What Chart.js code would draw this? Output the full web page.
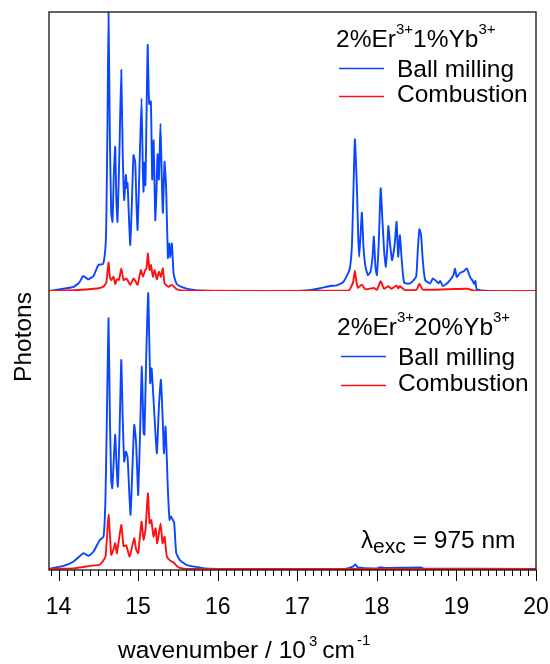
<!DOCTYPE html>
<html>
<head>
<meta charset="utf-8">
<script src="https://cdn.jsdelivr.net/npm/chart.js@4.4.1/dist/chart.umd.min.js"></script>
<style>
  html, body { margin: 0; padding: 0; background: #fff; }
  canvas { display: block; }
</style>
</head>
<body>
<canvas id="spectra" width="550" height="664"></canvas>
<script>
// ─── Data (wavenumber in 10^3 cm^-1, photons in arb. units, 100 = panel top) ───
const xTicks = [14, 15, 16, 17, 18, 19, 20];

// Top panel: 2%Er 1%Yb — ball milling
const topBallX = [13.88, 13.95, 14.06, 14.19, 14.26, 14.31, 14.37, 14.44, 14.50, 14.56, 14.59, 14.60, 14.615, 14.628,
  14.645, 14.662, 14.678, 14.695, 14.712, 14.727, 14.741, 14.765, 14.788, 14.806, 14.825, 14.846, 14.857, 14.867,
  14.885, 14.901, 14.922, 14.942, 14.964, 14.978, 14.993, 15.015, 15.043, 15.060, 15.068, 15.080, 15.092, 15.105,
  15.12, 15.138, 15.16, 15.177, 15.195, 15.215, 15.230, 15.244, 15.261, 15.281, 15.298, 15.311, 15.332, 15.352,
  15.374, 15.391, 15.403, 15.424, 15.445, 15.47, 15.495, 15.56, 15.655, 15.84, 16.2, 17.0, 17.15, 17.288, 17.413,
  17.497, 17.58, 17.656, 17.686, 17.705, 17.724, 17.749, 17.765, 17.778, 17.795, 17.812, 17.832, 17.855, 17.887,
  17.92, 17.945, 17.962, 17.982, 18.0, 18.025, 18.048, 18.07, 18.092, 18.113, 18.13, 18.144, 18.167, 18.192,
  18.225, 18.248, 18.268, 18.29, 18.313, 18.343, 18.418, 18.493, 18.515, 18.535, 18.556, 18.577, 18.607, 18.67,
  18.703, 18.733, 18.775, 18.796, 18.829, 18.88, 18.92, 18.962, 18.983, 19.004, 19.046, 19.088, 19.13, 19.172,
  19.205, 19.222, 19.239, 19.256, 19.42, 20.0];
const topBallY = [0, 0.3, 0.8, 1.5, 3, 5.4, 4.2, 5.4, 9.3, 9.7, 15.9, 25, 60, 100,
  55, 28, 24.8, 42, 51.7, 32, 24.8, 50, 79.2, 50, 32.6, 41.6, 37, 38.7,
  26, 16.5, 32, 48.7, 45.9, 32, 21.9, 42, 69, 42, 35.6, 46, 38, 62,
  88.2, 67, 68, 40, 54, 25.4, 35, 49, 40, 60, 40, 28, 46.3, 37,
  11.8, 17, 12, 17, 6.4, 3.5, 2.2, 1.3, 0.6, 0.1, 0, 0, 0.3, 1, 1.8,
  2, 3.3, 7.5, 15.9, 35, 54.4, 37.4, 20, 12.3, 20, 28.1, 15.9, 9, 5.7,
  6.9, 12, 19.5, 8.7, 5.7, 18, 36.8, 25.4, 14.1, 8.7, 15, 23.3, 16.5, 11,
  17, 24.8, 12.3, 20, 11, 3, 2.7, 5.1, 15, 22.1, 20, 11, 3.9, 2.7,
  4.5, 3.9, 2.7, 3.6, 1.8, 2.7, 3.9, 5.7, 8, 5, 6.5, 7, 8.1, 5,
  3.6, 2.5, 3.6, 0.6, 0, 0];

// Top panel: 2%Er 1%Yb — combustion
const topCombX = [13.88, 14.2, 14.45, 14.56, 14.60, 14.628, 14.645, 14.662, 14.691, 14.712, 14.733, 14.76, 14.788,
  14.817, 14.85, 14.875, 14.901, 14.942, 14.964, 14.993, 15.035, 15.06, 15.089, 15.105, 15.123, 15.143, 15.161,
  15.186, 15.207, 15.236, 15.261, 15.286, 15.311, 15.332, 15.382, 15.424, 15.487, 15.6, 17.6, 17.656, 17.70,
  17.724, 17.745, 17.762, 17.812, 17.854, 17.962, 18.0, 18.048, 18.092, 18.144, 18.184, 18.248, 18.268, 18.29,
  18.355, 18.5, 18.535, 18.577, 18.962, 19.13, 19.256, 20.0];
const topCombY = [0, 0.3, 0.8, 1.5, 3, 10.2, 5, 3.9, 5.1, 2.5, 4.2, 4, 8.1,
  3.9, 4.5, 3.5, 2.2, 4.5, 3.7, 2.2, 7.5, 5.1, 7.5, 8, 13.5, 7.5, 9.3,
  5.1, 7.5, 4.2, 6.9, 5.1, 8.1, 2.8, 1.5, 2.2, 0.6, 0.1, 0.1, 0.4, 3,
  7.3, 3, 1.1, 2.3, 0.6, 1.1, 0.4, 3.5, 0.8, 1.7, 0.8, 2, 1, 1.7,
  0.3, 0.5, 2.6, 0.5, 0.7, 0.8, 0, 0];

// Bottom panel: 2%Er 20%Yb — ball milling
const botBallX = [13.88, 13.95, 14.063, 14.19, 14.314, 14.377, 14.44, 14.515, 14.566, 14.59, 14.61, 14.628, 14.645,
  14.662, 14.675, 14.695, 14.712, 14.728, 14.745, 14.767, 14.788, 14.806, 14.825, 14.846, 14.867, 14.885, 14.905,
  14.93, 14.951, 14.972, 14.988, 15.001, 15.025, 15.047, 15.068, 15.08, 15.10, 15.127, 15.152, 15.169, 15.194,
  15.215, 15.236, 15.261, 15.286, 15.311, 15.324, 15.345, 15.374, 15.395, 15.41, 15.424, 15.453, 15.479, 15.53,
  15.613, 15.84, 16.2, 17.6, 17.7, 17.73, 17.76, 18.0, 18.05, 18.1, 18.55, 18.6, 20.0];
const botBallY = [0, 0.4, 1.1, 2.7, 5.7, 4.7, 6.3, 10.3, 11.8, 26, 60, 90.8, 55,
  32, 29.2, 40, 48.6, 38, 29.8, 50, 75.7, 55, 38.9, 42.5, 40.7, 30, 19.6,
  38, 52.2, 46.7, 36, 26.8, 50, 73.3, 49.2, 48.6, 75, 100, 67.3, 72.7, 61.2,
  50.4, 41.9, 58.8, 68.5, 52.8, 41.9, 51.6, 28.6, 17.8, 19, 18.4, 16.7, 5.7, 3,
  1.4, 0.2, 0, 0, 0.8, 1.6, 0.5, 0.2, 0.6, 0.3, 0.5, 0.1, 0];

// Bottom panel: 2%Er 20%Yb — combustion
const botCombX = [13.88, 14.19, 14.398, 14.524, 14.59, 14.628, 14.662, 14.69, 14.712, 14.733, 14.788, 14.817, 14.85,
  14.893, 14.951, 14.976, 15.001, 15.043, 15.068, 15.093, 15.123, 15.143, 15.165, 15.194, 15.22, 15.24, 15.282,
  15.307, 15.332, 15.361, 15.403, 15.445, 15.508, 15.6, 20.0];
const botCombY = [0, 0.2, 1.1, 1.6, 4.5, 19.6, 5.1, 7, 9.3, 5.7, 15.9, 8.2, 8.6,
  4.5, 11.1, 6.9, 5.7, 17.1, 10.6, 14.2, 27.4, 16.5, 17.7, 11.7, 14.7, 9.3, 16.5,
  9.3, 11.7, 4.5, 3, 2.3, 0.5, 0, 0];

const BLUE = '#0a46ff';
const RED = '#ff1010';
const FONT = "'Liberation Sans', Arial, sans-serif";

const toPoints = (xs, ys) => xs.map((x, i) => ({ x, y: ys[i] }));

// ─── Overlay plugin: frame, minor ticks, legends, labels ───────
function drawRich(ctx, parts, x, y) {
  parts.forEach(p => {
    ctx.font = `${p.size}px ${FONT}`;
    ctx.fillText(p.t, x, y + (p.dy || 0));
    x += ctx.measureText(p.t).width + (p.gap || 0);
  });
}

const overlayPlugin = {
  id: 'overlay',
  afterDraw(chart) {
    const { ctx, chartArea: a } = chart;
    const xs = chart.scales.x;
    ctx.save();

    // frame
    ctx.strokeStyle = '#222';
    ctx.lineWidth = 1.4;
    ctx.strokeRect(a.left, a.top, a.right - a.left, a.bottom - a.top);

    // ticks (minor every 0.1, major every 1)
    ctx.lineWidth = 1;
    ctx.strokeStyle = '#000';
    for (let i = 139; i <= 200; i++) {
      const px = Math.round(xs.getPixelForValue(i / 10)) + 0.5;
      const len = i % 10 === 0 ? 11 : 6;
      ctx.beginPath();
      ctx.moveTo(px, a.bottom);
      ctx.lineTo(px, a.bottom + len);
      ctx.stroke();
    }

    ctx.fillStyle = '#000';
    ctx.textBaseline = 'alphabetic';
    ctx.textAlign = 'left';

    // legend, top panel
    drawRich(ctx, [
      { t: '2%Er', size: 24.5 }, { t: '3+', size: 15, dy: -13 },
      { t: '1%Yb', size: 24.5 }, { t: '3+', size: 15, dy: -13 }
    ], 336, 47);
    ctx.font = `24.5px ${FONT}`;
    ctx.fillText('Ball milling', 397, 77);
    ctx.fillText('Combustion', 397, 102);
    ctx.lineWidth = 1.5;
    ctx.strokeStyle = BLUE;
    ctx.beginPath(); ctx.moveTo(339, 68.5); ctx.lineTo(384, 68.5); ctx.stroke();
    ctx.strokeStyle = RED;
    ctx.beginPath(); ctx.moveTo(339, 96.5); ctx.lineTo(384, 96.5); ctx.stroke();

    // legend, bottom panel
    drawRich(ctx, [
      { t: '2%Er', size: 24.5 }, { t: '3+', size: 15, dy: -13 },
      { t: '20%Yb', size: 24.5 }, { t: '3+', size: 15, dy: -13 }
    ], 337, 335);
    ctx.font = `24.5px ${FONT}`;
    ctx.fillText('Ball milling', 398, 365);
    ctx.fillText('Combustion', 398, 391);
    ctx.strokeStyle = BLUE;
    ctx.beginPath(); ctx.moveTo(341, 356.5); ctx.lineTo(386, 356.5); ctx.stroke();
    ctx.strokeStyle = RED;
    ctx.beginPath(); ctx.moveTo(341, 385.5); ctx.lineTo(386, 385.5); ctx.stroke();

    // excitation wavelength
    drawRich(ctx, [
      { t: 'λ', size: 24 }, { t: 'exc', size: 21, dy: 5, gap: 7 },
      { t: '= 975 nm', size: 24.5 }
    ], 361, 548);

    // x axis title
    drawRich(ctx, [
      { t: 'wavenumber / 10', size: 24.5, gap: 3 }, { t: '3', size: 15, dy: -12, gap: 5 },
      { t: 'cm', size: 24.5, gap: 2 }, { t: '-1', size: 15, dy: -13 }
    ], 118, 658);

    // y axis title
    ctx.translate(31, 337);
    ctx.rotate(-Math.PI / 2);
    ctx.textAlign = 'center';
    ctx.font = `24.5px ${FONT}`;
    ctx.fillText('Photons', 0, 0);

    ctx.restore();
  }
};

// ─── Chart ────────────────────────────────────────────────────
const panelAxis = (min, max) => ({
  type: 'linear',
  position: 'left',
  stack: 'panels',
  stackWeight: 1,
  offset: false,
  min, max,
  grid: { display: false },
  border: { display: false },
  ticks: { display: false },
  afterFit: s => { s.width = 0; s.paddingTop = 0; s.paddingBottom = 0; }
});

new Chart(document.getElementById('spectra').getContext('2d'), {
  type: 'line',
  data: {
    datasets: [
      { label: 'Combustion (1%Yb)', data: toPoints(topCombX, topCombY), yAxisID: 'yTop', borderColor: RED },
      { label: 'Combustion (20%Yb)', data: toPoints(botCombX, botCombY), yAxisID: 'yBot', borderColor: RED },
      { label: 'Ball milling (1%Yb)', data: toPoints(topBallX, topBallY), yAxisID: 'yTop', borderColor: BLUE },
      { label: 'Ball milling (20%Yb)', data: toPoints(botBallX, botBallY), yAxisID: 'yBot', borderColor: BLUE }
    ]
  },
  options: {
    responsive: false,
    animation: false,
    layout: { padding: { left: 49, right: 14, top: 12, bottom: 0 } },
    elements: {
      point: { radius: 0 },
      line: { borderWidth: 1.9, tension: 0.15, fill: false }
    },
    plugins: { legend: { display: false }, tooltip: { enabled: false } },
    scales: {
      x: {
        type: 'linear',
        position: 'bottom',
        min: 13.88,
        max: 20,
        afterBuildTicks: s => { s.ticks = xTicks.map(v => ({ value: v })); },
        grid: { display: false },
        border: { display: false },
        ticks: {
          padding: 16,
          maxRotation: 0,
          autoSkip: false,
          color: '#000',
          font: { family: FONT, size: 23 }
        },
        afterFit: s => { s.height = 94; s.paddingLeft = 0; s.paddingRight = 0; }
      },
      yBot: panelAxis(-0.4, 100.7),
      yTop: panelAxis(0, 100)
    }
  },
  plugins: [overlayPlugin]
});
</script>
</body>
</html>
